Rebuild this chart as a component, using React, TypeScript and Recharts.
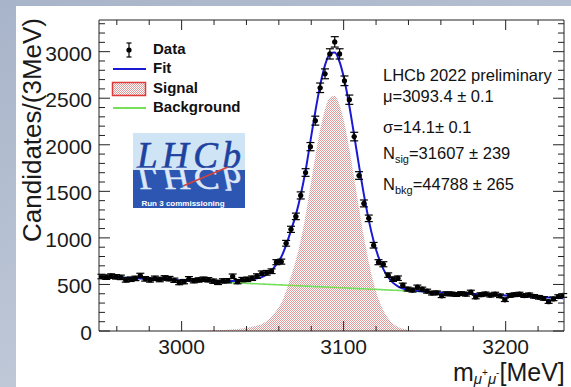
import React from 'react';
import { ComposedChart, Area, Line, Scatter, XAxis, YAxis, ErrorBar } from 'recharts';

// 3 MeV bin centres
const massBins = [
  2950.5, 2953.5, 2956.5, 2959.5, 2962.5, 2965.5, 2968.5, 2971.5, 2974.5, 2977.5,
  2980.5, 2983.5, 2986.5, 2989.5, 2992.5, 2995.5, 2998.5, 3001.5, 3004.5, 3007.5,
  3010.5, 3013.5, 3016.5, 3019.5, 3022.5, 3025.5, 3028.5, 3031.5, 3034.5, 3037.5,
  3040.5, 3043.5, 3046.5, 3049.5, 3052.5, 3055.5, 3058.5, 3061.5, 3064.5, 3067.5,
  3070.5, 3073.5, 3076.5, 3079.5, 3082.5, 3085.5, 3088.5, 3091.5, 3094.5, 3097.5,
  3100.5, 3103.5, 3106.5, 3109.5, 3112.5, 3115.5, 3118.5, 3121.5, 3124.5, 3127.5,
  3130.5, 3133.5, 3136.5, 3139.5, 3142.5, 3145.5, 3148.5, 3151.5, 3154.5, 3157.5,
  3160.5, 3163.5, 3166.5, 3169.5, 3172.5, 3175.5, 3178.5, 3181.5, 3184.5, 3187.5,
  3190.5, 3193.5, 3196.5, 3199.5, 3202.5, 3205.5, 3208.5, 3211.5, 3214.5, 3217.5,
  3220.5, 3223.5, 3226.5, 3229.5, 3232.5, 3235.5,
];

const candidates = [
  585, 578, 590, 582, 576, 548, 556, 565, 596, 560,
  548, 566, 553, 570, 562, 545, 520, 530, 560, 540,
  548, 556, 550, 535, 522, 538, 540, 588, 530, 552,
  555, 567, 590, 620, 625, 642, 739, 745, 942, 1092,
  1231, 1456, 1702, 1980, 2259, 2612, 2762, 2976, 3105, 2976,
  2687, 2484, 2088, 1670, 1370, 1210, 921, 739, 717, 600,
  557, 567, 492, 450, 439, 471, 450, 428, 407, 410,
  378, 400, 398, 392, 402, 395, 418, 365, 390, 398,
  385, 396, 378, 335, 382, 390, 396, 380, 388, 372,
  362, 350, 315, 345, 370, 382,
];

const candidateErrors = [
  24, 24, 24, 24, 24, 23, 24, 24, 24, 24,
  23, 24, 24, 24, 24, 23, 23, 23, 24, 23,
  23, 24, 23, 23, 23, 23, 23, 24, 23, 23,
  24, 24, 24, 25, 25, 25, 27, 27, 31, 33,
  35, 38, 41, 44, 48, 51, 53, 55, 56, 55,
  52, 50, 46, 41, 37, 35, 30, 27, 27, 24,
  24, 24, 22, 21, 21, 22, 21, 21, 20, 20,
  19, 20, 20, 20, 20, 20, 20, 19, 20, 20,
  20, 20, 19, 18, 20, 20, 20, 19, 20, 19,
  19, 19, 18, 19, 19, 20,
];

const signalShape = [
  0, 0, 0, 0, 0, 0, 0, 0, 0, 0,
  0, 0, 0, 0, 0, 0, 0, 0, 1, 2,
  3, 4, 5, 7, 9, 11, 14, 18, 22, 28,
  35, 45, 58, 75, 105, 150, 220, 300, 430, 590,
  760, 975, 1240, 1560, 1878, 2163, 2382, 2507, 2523, 2425,
  2229, 1957, 1643, 1318, 1011, 741, 519, 347, 222, 136,
  79, 44, 23, 12, 6, 3, 1, 0, 0, 0,
  0, 0, 0, 0, 0, 0, 0, 0, 0, 0,
  0, 0, 0, 0, 0, 0, 0, 0, 0, 0,
  0, 0, 0, 0, 0, 0,
];

const backgroundShape = [
  585, 583, 580, 578, 575, 573, 570, 568, 565, 563,
  561, 558, 556, 553, 551, 548, 546, 543, 541, 539,
  536, 534, 531, 529, 526, 524, 521, 519, 517, 514,
  512, 509, 507, 504, 502, 499, 497, 495, 492, 490,
  487, 485, 482, 480, 477, 475, 473, 470, 468, 465,
  463, 460, 458, 455, 453, 450, 448, 446, 443, 441,
  438, 436, 433, 431, 429, 426, 424, 421, 419, 416,
  414, 411, 409, 407, 404, 402, 399, 397, 394, 392,
  389, 387, 385, 382, 380, 377, 375, 372, 370, 367,
  365, 363, 360, 358, 355, 353,
];

const fitShape = [
  585, 583, 580, 578, 575, 573, 570, 568, 565, 563,
  561, 558, 556, 553, 551, 548, 546, 543, 542, 541,
  539, 538, 536, 536, 535, 535, 535, 537, 539, 542,
  547, 554, 565, 579, 607, 649, 717, 795, 922, 1080,
  1247, 1460, 1722, 2040, 2355, 2638, 2855, 2977, 2991, 2890,
  2692, 2417, 2101, 1773, 1464, 1191, 967, 793, 665, 577,
  517, 480, 456, 443, 435, 429, 425, 421, 419, 416,
  414, 411, 409, 407, 404, 402, 399, 397, 394, 392,
  389, 387, 385, 382, 380, 377, 375, 372, 370, 367,
  365, 363, 360, 358, 355, 353,
];

const xTicks = [2960, 2980, 3000, 3020, 3040, 3060, 3080, 3100, 3120, 3140, 3160, 3180, 3200, 3220];
const xLabelled = [3000, 3100, 3200];
const yTicks = [
  0, 100, 200, 300, 400, 500, 600, 700, 800, 900, 1000, 1100, 1200, 1300, 1400, 1500, 1600,
  1700, 1800, 1900, 2000, 2100, 2200, 2300, 2400, 2500, 2600, 2700, 2800, 2900, 3000, 3100,
  3200, 3300,
];
const yLabelled = [0, 500, 1000, 1500, 2000, 2500, 3000];

const X_DOMAIN: [number, number] = [2949, 3236];
const Y_DOMAIN: [number, number] = [0, 3340];
const FONT = '"Liberation Sans", Arial, Helvetica, sans-serif';
const AXIS = '#222';

const rows = massBins.map((m, i) => ({
  m,
  data: candidates[i],
  err: candidateErrors[i],
  sig: signalShape[i],
  bkg: backgroundShape[i],
  fit: fitShape[i],
}));

const BottomTick = ({ x, y, payload }: any) => {
  const major = xLabelled.includes(payload.value);
  return (
    <g>
      <line x1={x} y1={y} x2={x} y2={y - (major ? 10 : 5)} stroke={AXIS} />
      {major && (
        <text x={x} y={y + 23} textAnchor="middle" fontSize={21} fontFamily={FONT} fill="#1a1a1a">
          {payload.value}
        </text>
      )}
    </g>
  );
};

const TopTick = ({ x, y, payload }: any) => {
  const major = xLabelled.includes(payload.value);
  return <line x1={x} y1={y} x2={x} y2={y + (major ? 10 : 5)} stroke={AXIS} />;
};

const LeftTick = ({ x, y, payload }: any) => {
  const major = yLabelled.includes(payload.value);
  return (
    <g>
      <line x1={x} y1={y} x2={x + (major ? 11 : 6)} y2={y} stroke={AXIS} />
      {major && (
        <text x={x - 7} y={y + 9} textAnchor="end" fontSize={21} fontFamily={FONT} fill="#1a1a1a">
          {payload.value}
        </text>
      )}
    </g>
  );
};

const RightTick = ({ x, y, payload }: any) => {
  const major = yLabelled.includes(payload.value);
  return <line x1={x} y1={y} x2={x - (major ? 11 : 6)} y2={y} stroke={AXIS} />;
};

const DataPoint = ({ cx, cy }: any) => (
  <g>
    <line x1={cx - 2.4} y1={cy} x2={cx + 2.4} y2={cy} stroke="#000" strokeWidth={1.2} />
    <circle cx={cx} cy={cy} r={2.6} fill="#000" />
  </g>
);

const Overlay = () => (
  <svg
    width={571}
    height={387}
    style={{ position: 'absolute', left: 0, top: 0, pointerEvents: 'none' }}
    fontFamily={FONT}
  >
    <defs>
      <pattern id="legendCheck" width="2" height="2" patternUnits="userSpaceOnUse">
        <rect width="2" height="2" fill="#fff" />
        <rect width="1" height="1" fill="#e09a9a" />
        <rect x="1" y="1" width="1" height="1" fill="#e09a9a" />
      </pattern>
    </defs>

    {/* axis titles */}
    <text transform="translate(41,130) rotate(-90)" textAnchor="middle" fontSize={26} fill="#1a1a1a">
      Candidates/(3MeV)
    </text>
    <text x={453} y={381} fontSize={25} fill="#1a1a1a">
      m
      <tspan fontSize={15} fontStyle="italic" dy={3}>μ</tspan>
      <tspan fontSize={10} dy={-8}>+</tspan>
      <tspan fontSize={15} fontStyle="italic" dy={8}>μ</tspan>
      <tspan fontSize={10} dy={-8}>-</tspan>
      <tspan fontSize={25} dy={5}>[MeV]</tspan>
    </text>

    {/* legend */}
    <line x1={129} y1={43} x2={129} y2={57} stroke="#000" strokeWidth={1.2} />
    <line x1={126.5} y1={43} x2={131.5} y2={43} stroke="#000" strokeWidth={1.2} />
    <line x1={126.5} y1={57} x2={131.5} y2={57} stroke="#000" strokeWidth={1.2} />
    <circle cx={129} cy={50} r={2.6} fill="#000" />
    <line x1={113} y1={69} x2={146} y2={69} stroke="#1a1ad2" strokeWidth={2} />
    <rect x={112.5} y={82.5} width={33} height={13} fill="url(#legendCheck)" stroke="#e0393b" strokeWidth={1.5} />
    <line x1={113} y1={108} x2={146} y2={108} stroke="#74e05a" strokeWidth={2} />
    <g fontSize={15} fontWeight="bold" fill="#111">
      <text x={153} y={54}>Data</text>
      <text x={153} y={73}>Fit</text>
      <text x={153} y={92.5}>Signal</text>
      <text x={153} y={111.5}>Background</text>
    </g>

    {/* logo */}
    <rect x={133} y={133} width={112} height={37} fill="#cfe5f6" />
    <rect x={133} y={170} width={112} height={38} fill="#2d56b2" />
    <text
      x={137}
      y={168}
      fontFamily='"Liberation Serif", "DejaVu Serif", serif'
      fontStyle="italic"
      fontSize={37}
      textLength={104}
      fill="#1f42a0"
      stroke="#1f42a0"
      strokeWidth={0.6}
    >
      LHCb
    </text>
    <text
      x={137}
      y={168}
      transform="matrix(1,0,0,-0.85,0,311)"
      fontFamily='"Liberation Serif", "DejaVu Serif", serif'
      fontStyle="italic"
      fontSize={37}
      textLength={104}
      fill="#dce8f8"
      stroke="#dce8f8"
      strokeWidth={0.6}
    >
      LHCb
    </text>
    <line x1={183} y1={186} x2={228} y2={167} stroke="#d9413b" strokeWidth={1.5} />
    <text x={183} y={206} textAnchor="middle" fontSize={8} fontWeight="bold" fill="#ffffff">
      Run 3 commissioning
    </text>

    {/* fit results */}
    <g fontSize={16.5} fill="#111">
      <text x={383} y={81}>LHCb 2022 preliminary</text>
      <text x={383} y={102}>μ=3093.4 ± 0.1</text>
      <text x={383} y={133}>σ=14.1± 0.1</text>
      <text x={383} y={159}>
        N<tspan fontSize={11} dy={4}>sig</tspan>
        <tspan dy={-4}>=31607 ± 239</tspan>
      </text>
      <text x={383} y={190}>
        N<tspan fontSize={11} dy={4}>bkg</tspan>
        <tspan dy={-4}>=44788 ± 265</tspan>
      </text>
    </g>
  </svg>
);

export default function App() {
  return (
    <div
      style={{
        position: 'absolute',
        left: 0,
        top: 0,
        width: 571,
        height: 387,
        overflow: 'hidden',
        background: 'linear-gradient(160deg, #a8b4c9 0%, #bcc6d6 60%, #cdd5e1 100%)',
        fontFamily: FONT,
      }}
    >
      <div style={{ position: 'absolute', left: 16, top: 6, right: 0, bottom: 0, background: '#fff' }} />
      <div style={{ position: 'absolute', left: 0, top: 0 }}>
        <ComposedChart width={571} height={387} data={rows} margin={{ top: 19, right: 6, bottom: 6, left: 39 }}>
          <defs>
            <pattern id="signalCheck" width="2" height="2" patternUnits="userSpaceOnUse">
              <rect width="2" height="2" fill="#fff" />
              <rect width="1" height="1" fill="#e09a9a" />
              <rect x="1" y="1" width="1" height="1" fill="#e09a9a" />
            </pattern>
          </defs>
          <XAxis
            dataKey="m"
            type="number"
            domain={X_DOMAIN}
            allowDataOverflow
            ticks={xTicks}
            interval={0}
            height={50}
            tickSize={0}
            tickMargin={0}
            tickLine={false}
            tick={<BottomTick />}
            axisLine={{ stroke: AXIS }}
          />
          <XAxis
            xAxisId="top"
            orientation="top"
            dataKey="m"
            type="number"
            domain={X_DOMAIN}
            allowDataOverflow
            ticks={xTicks}
            interval={0}
            height={1}
            tickSize={0}
            tickMargin={0}
            tickLine={false}
            tick={<TopTick />}
            axisLine={{ stroke: AXIS }}
          />
          <YAxis
            type="number"
            domain={Y_DOMAIN}
            allowDataOverflow
            ticks={yTicks}
            interval={0}
            width={60}
            tickSize={0}
            tickMargin={0}
            tickLine={false}
            tick={<LeftTick />}
            axisLine={{ stroke: AXIS }}
          />
          <YAxis
            yAxisId="right"
            orientation="right"
            type="number"
            domain={Y_DOMAIN}
            allowDataOverflow
            ticks={yTicks}
            interval={0}
            width={1}
            tickSize={0}
            tickMargin={0}
            tickLine={false}
            tick={<RightTick />}
            axisLine={{ stroke: AXIS }}
          />
          <Area
            type="monotone"
            dataKey="sig"
            stroke="none"
            fill="url(#signalCheck)"
            fillOpacity={1}
            isAnimationActive={false}
          />
          <Line type="monotone" dataKey="bkg" stroke="#74e05a" strokeWidth={1.6} dot={false} isAnimationActive={false} />
          <Line type="monotone" dataKey="fit" stroke="#1a1ad2" strokeWidth={2} dot={false} isAnimationActive={false} />
          <Scatter dataKey="data" shape={<DataPoint />} isAnimationActive={false}>
            <ErrorBar dataKey="err" direction="y" width={4} stroke="#000" strokeWidth={1.2} />
          </Scatter>
        </ComposedChart>
      </div>
      <Overlay />
    </div>
  );
}
